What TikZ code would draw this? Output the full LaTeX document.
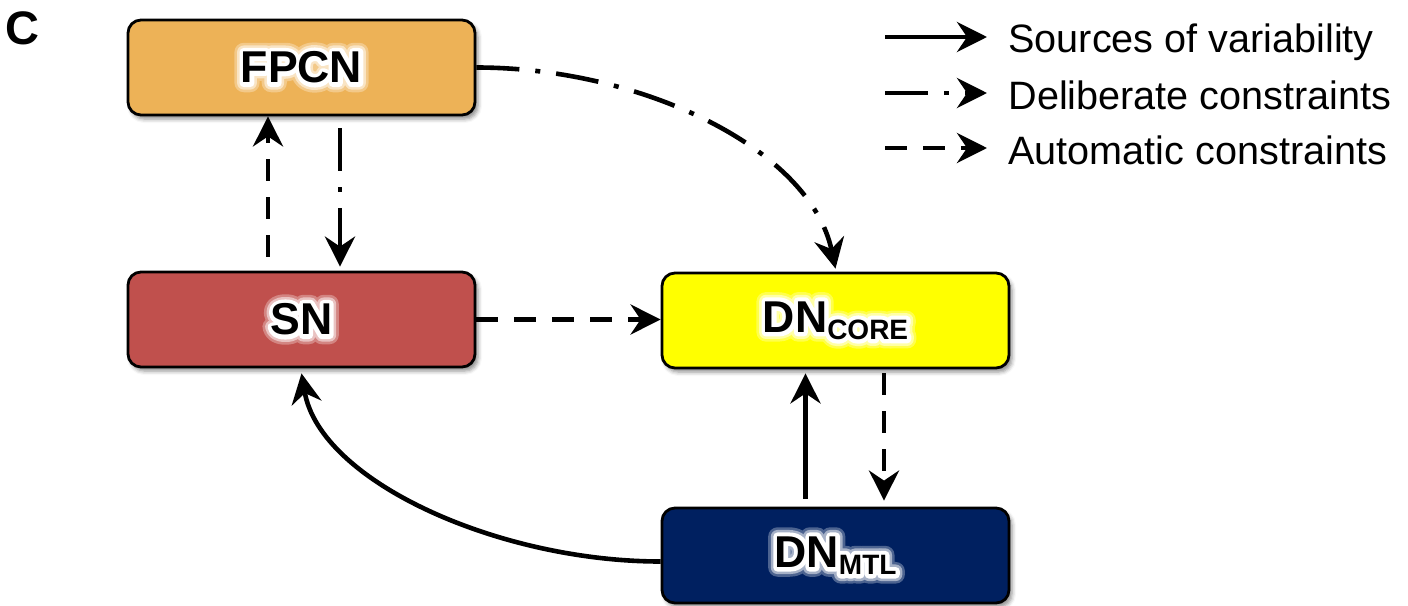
\documentclass[tikz,border=0pt]{standalone}
\usepackage{fontspec}
\setmainfont{Liberation Sans}
\usetikzlibrary{arrows.meta,shadows.blur,calc}

% stroked (emboldened) faces used for the soft halo behind the box titles
\newfontfamily\glowAm{Liberation Sans Bold}[FakeBold=42]
\newfontfamily\glowAs{Liberation Sans Bold}[FakeBold=66]
\newfontfamily\glowBm{Liberation Sans Bold}[FakeBold=30]
\newfontfamily\glowBs{Liberation Sans Bold}[FakeBold=48]
\newfontfamily\glowCm{Liberation Sans Bold}[FakeBold=19]
\newfontfamily\glowCs{Liberation Sans Bold}[FakeBold=30]

\definecolor{fpcnfill}{HTML}{EDB257}
\definecolor{snfill}{HTML}{C0504D}
\definecolor{corefill}{HTML}{FFFF00}
\definecolor{mtlfill}{HTML}{002060}

% one layer of a title: #1 main face, #2 subscript face, #3 colour,
% #4 main text, #5 subscript (may be empty)
\newcommand\netlayer[5]{{\color{#3}\fontsize{22.3}{24}#1#4%
  \ifx\relax#5\relax\else\raisebox{-3.5pt}{\fontsize{14}{14}#2#5}\fi}}
% title with a white halo fading into the box colour #1
\newcommand\netlabel[3]{\leavevmode
  \rlap{\netlayer{\glowAm}{\glowAs}{white!30!#1}{#2}{#3}}%
  \rlap{\netlayer{\glowBm}{\glowBs}{white!65!#1}{#2}{#3}}%
  \rlap{\netlayer{\glowCm}{\glowCs}{white}{#2}{#3}}%
  \netlayer{\bfseries}{\bfseries}{black}{#2}{#3}}

\tikzset{
  netbox/.style={draw=black, line width=1.4pt, line join=round,
    rounded corners=6.5pt,
    minimum width=173.5pt, minimum height=47.5pt, inner sep=0pt,
    blur shadow={shadow xshift=1.5pt, shadow yshift=-2pt,
      shadow blur radius=2pt, shadow opacity=45}},
  conn/.style={line width=2.3pt, line cap=butt,
    -{Stealth[length=15pt,width=15pt,inset=5pt]}},
  variability/.style={conn},
  deliberate/.style={conn, dash pattern=on 21.5pt off 8pt on 2.5pt off 8pt},
  automatic/.style={conn, dash pattern=on 11pt off 8pt},
  legendtext/.style={anchor=base west, inner sep=0pt,
    font=\fontsize{19.8}{22}\selectfont},
}

\begin{document}
\begin{tikzpicture}[x=0.5pt, y=-0.5pt]
\useasboundingbox (0,0) rectangle (1408,605);

% panel letter
\node[anchor=base, inner sep=0pt, font=\fontsize{23.5}{24}\selectfont\bfseries]
  (panel) at (22,44.5) {C};

% networks
\node[netbox, fill=fpcnfill] (FPCN) at (301.5,67.5) {\netlabel{fpcnfill}{FPCN}{}};
\node[netbox, fill=snfill] (SN) at (301.5,319.5) {\netlabel{snfill}{SN}{}};
\node[netbox, fill=corefill] (DNcore) at (835.5,320.5)
  {\netlabel{corefill}{DN}{CORE}};
\node[netbox, fill=mtlfill] (DNmtl) at (835.5,555.5)
  {\netlabel{mtlfill}{DN}{MTL}};

% connections
\draw[automatic] ([xshift=-16.75pt,yshift=7pt]SN.north)
  -- ([xshift=-16.75pt]FPCN.south);
\draw[deliberate] ([xshift=19.25pt,yshift=-6pt]FPCN.south)
  -- ([xshift=19.25pt,yshift=2pt]SN.north);
\draw[deliberate] (FPCN.east)
  .. controls ($(FPCN.east)+(165,0)$) and ($(DNcore.north)+(-25.5,-123)$)
  .. ([yshift=1.5pt]DNcore.north);
\draw[automatic] (SN.east) -- (SN.east -| DNcore.west);
\draw[variability] ([xshift=-15pt,yshift=4pt]DNmtl.north)
  -- ([xshift=-15pt,yshift=-2pt]DNcore.south);
\draw[automatic] ([xshift=24.25pt,yshift=-2pt]DNcore.south)
  -- ([xshift=24.25pt,yshift=3pt]DNmtl.north);
\draw[variability] ([yshift=-3pt]DNmtl.west)
  .. controls ($(DNmtl.west)+(-162,6)$) and ($(SN.south)+(18.5,113)$)
  .. ([yshift=-2.5pt]SN.south);

% legend
\coordinate (k1a) at (885,37);  \coordinate (k1b) at (987,37);
\coordinate (k2a) at (885,93);  \coordinate (k2b) at (987,93);
\coordinate (k3a) at (885,148); \coordinate (k3b) at (987,148);
\draw[variability] (k1a) -- (k1b);
\draw[deliberate] (k2a) -- (k2b);
\draw[automatic] (k3a) -- (k3b);
\node[legendtext] (k1t) at (1008,52) {Sources of variability};
\node[legendtext] (k2t) at (1008,109) {Deliberate constraints};
\node[legendtext] (k3t) at (1008,164) {Automatic constraints};
\end{tikzpicture}
\end{document}
